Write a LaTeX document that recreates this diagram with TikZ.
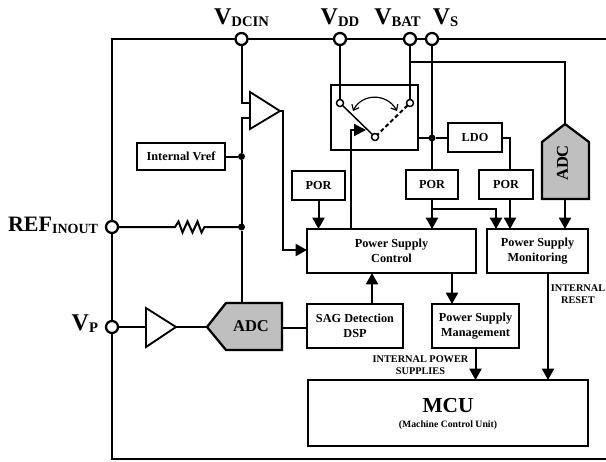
\documentclass[tikz,border=0pt]{standalone}
\usepackage{fontspec}
\setmainfont{Liberation Serif}
\usetikzlibrary{arrows.meta}
\newcommand{\padlabel}[2]{{\fontsize{18}{18}\selectfont #1}\raisebox{-1.7pt}{\fontsize{11}{11}\selectfont #2}}
\begin{document}
\begin{tikzpicture}[x=0.75pt,y=-0.75pt,line width=1.5pt]
			\def\U{0.75pt}
			\tikzstyle{block}=[draw, line width=1.7pt, fill=white, inner sep=0pt, outer sep=0pt, align=center, font=\fontsize{9.2}{11}\selectfont\bfseries]
			\tikzstyle{pad}=[circle, draw, line width=1.7pt, fill=white, inner sep=0pt, outer sep=0pt, minimum size=12*\U]
			\tikzstyle{contact}=[circle, draw, line width=1.1pt, fill=white, inner sep=0pt, outer sep=0pt, minimum size=7*\U]
			\tikzstyle{point}=[circle, fill=black, inner sep=0pt, outer sep=0pt, minimum size=7*\U]
			\tikzstyle{padname}=[inner sep=0pt, font=\bfseries]
			\tikzstyle{note}=[inner sep=0pt, align=center, font=\fontsize{7.7}{9}\selectfont\bfseries]
			\tikzstyle{arr}=[-{Triangle[width=9pt,length=8.5pt]}]
			\useasboundingbox (0,0) rectangle (606,461);
			% chip outline
			\coordinate (TR) at (606,39);
			\coordinate (TL) at (112,39);
			\coordinate (BL) at (112,459);
			\coordinate (BR) at (606,459);
			\draw (TR) -- (TL) -- (BL) -- (BR);
			% pads
			\node[pad] (VDCIN) at (241.5,39) {};
			\node[pad] (VDD) at (340,39) {};
			\node[pad] (VBAT) at (410,39) {};
			\node[pad] (VS) at (432,39) {};
			\node[pad] (REF) at (112,227) {};
			\node[pad] (VP) at (112,327) {};
			\node[padname, anchor=base] (nVDCIN) at (241.5,24.5) {\padlabel{V}{DCIN}};
			\node[padname, anchor=base] (nVDD) at (340,24.5) {\padlabel{V}{DD}};
			\node[padname, anchor=base] (nVBAT) at (397.5,24.5) {\padlabel{V}{BAT}};
			\node[padname, anchor=base] (nVS) at (445.5,24.5) {\padlabel{V}{S}};
			\node[padname, anchor=base east] (nREF) at (99,231) {{\fontsize{16.5}{18}\selectfont REF}\raisebox{-1.7pt}{\fontsize{10.5}{11}\selectfont INOUT}};
			\node[padname, anchor=base east] (nVP) at (99,330) {\padlabel{V}{P}};
			% blocks
			\node[block, minimum width=88*\U, minimum height=27*\U] (vref) at (181,156.5) {Internal Vref};
			\node[block, minimum width=87*\U, minimum height=65*\U] (sw) at (374.5,117.5) {};
			\node[block, minimum width=54*\U, minimum height=29*\U] (ldo) at (475,137.5) {LDO};
			\node[block, minimum width=53*\U, minimum height=29*\U] (por1) at (318.5,185.5) {POR};
			\node[block, minimum width=52*\U, minimum height=29*\U] (por2) at (432,184.5) {POR};
			\node[block, minimum width=54*\U, minimum height=29*\U] (por3) at (506,184.5) {POR};
			\node[block, minimum width=169*\U, minimum height=44*\U] (ctrl) at (391.5,251) {Power Supply\\Control};
			\node[block, minimum width=101*\U, minimum height=44*\U] (mon) at (537.5,251) {Power Supply\\Monitoring};
			\node[block, minimum width=96*\U, minimum height=44*\U] (sag) at (355,326) {SAG Detection\\DSP};
			\node[block, minimum width=87*\U, minimum height=44*\U] (mgmt) at (475.5,326) {Power Supply\\Management};
			\node[block, minimum width=280*\U, minimum height=66*\U] (mcu) at (448,413) {};
			\node[inner sep=0pt, font=\fontsize{16}{18}\selectfont\bfseries] (nmcu) at (448,405.5) {MCU};
			\node[inner sep=0pt, font=\fontsize{7.3}{9}\selectfont\bfseries] (nmcus) at (448,425) {(Machine Control Unit)};
			% converters
			\coordinate (adcbT) at (207,327);
			\coordinate (adcbN) at (241.5,303);
			\coordinate (adcbE) at (282,328);
			\draw[line width=1.7pt, fill=black!25] (adcbT) -- (226,303) -- (282,303) -- (282,350) -- (226,350) -- cycle;
			\node[inner sep=0pt, font=\fontsize{12.4}{14}\selectfont\bfseries] (adcb) at (251,326.5) {ADC};
			\coordinate (adcaT) at (565,124);
			\coordinate (adcaS) at (565,199);
			\draw[line width=1.7pt, fill=black!25] (adcaT) -- (589,142) -- (589,199) -- (542,199) -- (542,142) -- cycle;
			\node[inner sep=0pt, rotate=90, font=\fontsize{12.4}{14}\selectfont\bfseries] (adca) at (562.5,163) {ADC};
			% buffers
			\coordinate (ampaT) at (280,111);
			\draw[line width=1.4pt] (250,92) -- (ampaT) -- (250,129) -- cycle;
			\coordinate (ampbL) at (146,327);
			\coordinate (ampbT) at (176,327);
			\draw[line width=1.4pt] (146,308) -- (ampbT) -- (146,347) -- cycle;
			% switch
			\node[contact] (swa) at (340,103) {};
			\node[contact] (swb) at (410,103) {};
			\node[contact] (swc) at (375,137) {};
			\draw[line width=1.1pt] (swa) -- (swc);
			\draw[line width=1.5pt, dash pattern=on 3pt off 2pt] (swb) -- (swc);
			\draw[line width=0.9pt, {Straight Barb[length=3.5pt,width=6pt]}-{Straight Barb[length=3.5pt,width=6pt]}] (353,111) .. controls (362,93) and (387,93) .. (397,111);
			\draw (VDD) -- (swa);
			\draw (VBAT) -- (swb);
			% junctions
			\node[point] (j1) at (241.5,156.5) {};
			\node[point] (j2) at (241.5,227) {};
			\node[point] (j3) at (432,138) {};
			\coordinate (j4) at (432,209);
			\coordinate (j5) at (410,62);
			\coordinate (ampaA) at (250,103);
			\coordinate (ampaB) at (250,118);
			\coordinate (swin) at (351,130);
			\coordinate (swtip) at (366,130);
			\coordinate (ldob) at (510,138);
			% left side
			\draw (VDCIN) |- (ampaA);
			\draw (adcbN) -- (j2) -- (j1) -- (ampaB -| j1) -- (ampaB);
			\draw (vref) -- (j1);
			\draw[arr] (ampaT) -| (283,250) -- (ctrl.west |- 283,250);
			\draw (REF) -- (175,227) -- ++(3.5,-5.5) -- ++(4,11) -- ++(5,-11) -- ++(5,11) -- ++(5,-11) -- ++(4,11) -- ++(3,-5.5) -- (j2);
			\draw (VP) -- (ampbL);
			\draw (ampbT) -- (adcbT);
			\draw (adcbE) -- (sag.west |- adcbE);
			% top side
			\draw (VS) -- (por2);
			\draw (sw.east |- j3) -- (j3) -- (ldo.west |- j3);
			\draw (ldo.east |- ldob) -- (ldob) -- (ldob |- por3.north);
			\draw (j5) -| (adcaT);
			\draw[-{Triangle[width=9pt,length=9pt]}] (ctrl.north -| swin) -- (swin) -- (swtip);
			\draw[arr] (por1) -- (por1 |- ctrl.north);
			\draw[arr] (por2) -- (por2 |- ctrl.north);
			\draw[arr] (j4) -| (496,229);
			\draw[arr] (ldob |- por3.south) -- (ldob |- mon.north);
			\draw[arr] (adcaS) -- (adcaS |- mon.north);
			% bottom side
			\draw[arr] (sag.north -| 372,0) -- (ctrl.south -| 372,0);
			\draw[arr] (ctrl.south -| 452,0) -- (mgmt.north -| 452,0);
			\draw[arr] (mgmt.south) -- (mgmt.south |- mcu.north);
			\draw[arr] (mon.south -| 548,0) -- (mcu.north -| 548,0);
			% labels
			\node[note] (nreset) at (578,294.5) {INTERNAL\\RESET};
			\node[note] (nsupply) at (420.5,365) {INTERNAL POWER\\SUPPLIES};
		\end{tikzpicture}
\end{document}
